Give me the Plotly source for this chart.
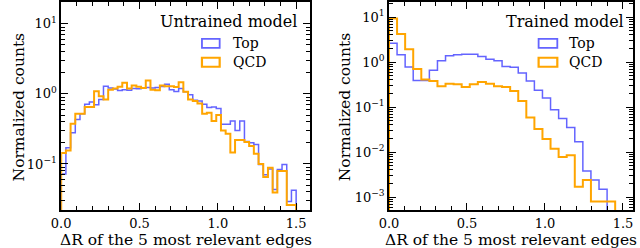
import numpy as np
import plotly.graph_objects as go

# ---------------- data ----------------
# Left panel: untrained model, 50 bins of width 0.03 on [0, 1.5]
left_edges = np.linspace(0.0, 1.5, 51)
left_top = [0.072, 0.17, 0.28, 0.43, 0.52, 0.71, 0.77, 0.70, 0.83, 1.29,
            1.22, 1.18, 1.12, 1.15, 1.13, 1.20, 1.19, 1.22, 1.24, 1.22,
            1.24, 1.28, 1.37, 1.15, 1.08, 1.20, 1.07, 0.97, 0.81, 0.79,
            0.71, 0.64, 0.65, 0.62, 0.37, 0.37, 0.41, 0.30, 0.41, 0.21,
            0.20, 0.19, 0.098, 0.070, 0.085, 0.043, 0.083, 0.098, 0.029, 0.042]
left_qcd = [0.143, 0.155, 0.376, 0.52, 0.52, 0.65, 0.65, 1.09, 0.93, 0.83,
            1.15, 1.20, 1.27, 1.45, 1.20, 1.32, 1.27, 1.22, 1.55, 1.15,
            1.13, 1.32, 1.29, 1.29, 1.26, 1.47, 1.07, 0.83, 0.79, 0.73,
            0.52, 0.54, 0.41, 0.50, 0.30, 0.27, 0.146, 0.22, 0.22, 0.205,
            0.18, 0.14, 0.10, 0.065, 0.088, 0.039, 0.079, 0.079, 0.026, 0.026]

# Right panel: trained model, bin width 1.45/28
right_width = 1.45 / 28
right_top = [2.62, 1.45, 0.78, 0.39, 0.39, 0.66, 1.07, 1.38, 1.45, 1.50,
             1.50, 1.33, 1.16, 1.07, 0.80, 0.77, 0.57, 0.38, 0.235, 0.16,
             0.087, 0.056, 0.035, 0.017, 0.0038, 0.0024, 0.0015]
right_qcd = [9.3, 4.2, 1.93, 0.70, 0.41, 0.38, 0.29, 0.33, 0.32, 0.28,
             0.32, 0.36, 0.33, 0.29, 0.28, 0.227, 0.137, 0.059, 0.0326, 0.0196,
             0.0118, 0.0078, 0.0085, 0.0017, 0.0024, 0.0008, 0.0008, 0.0008]
right_top_edges = np.arange(len(right_top) + 1) * right_width
right_qcd_edges = np.arange(len(right_qcd) + 1) * right_width

series_names = ["Top", "QCD"]
panel_titles = ["Untrained model", "Trained model"]
x_title = "ΔR of the 5 most relevant edges"
y_title = "Normalized counts"
x_tickvals = [0.0, 0.5, 1.0, 1.5]
x_ticktext = ["0.0", "0.5", "1.0", "1.5"]
left_yticks = [0.1, 1, 10]
left_yticktext = ["10<sup>−1</sup>", "10<sup>0</sup>", "10<sup>1</sup>"]
right_yticks = [0.001, 0.01, 0.1, 1, 10]
right_yticktext = ["10<sup>−3</sup>", "10<sup>−2</sup>", "10<sup>−1</sup>",
                   "10<sup>0</sup>", "10<sup>1</sup>"]

# ---------------- style ----------------
BLUE = "rgba(40,40,255,0.72)"
ORANGE = "#FFA500"
FONT = "DejaVu Serif"
FLOOR = 1e-6


def step_xy(edges, vals):
    x = [edges[0]] + list(edges[:-1]) + [edges[-1]]
    y = [FLOOR] + list(vals) + [FLOOR]
    return x, y


fig = go.Figure()


def add_hist(edges, vals, color, width, xa, ya):
    x, y = step_xy(edges, vals)
    fig.add_trace(go.Scatter(x=x, y=y, mode="lines", line=dict(shape="hv", color=color, width=width),
                             xaxis=xa, yaxis=ya, showlegend=False, hoverinfo="skip"))


add_hist(left_edges, left_top, BLUE, 1.5, "x", "y")
add_hist(left_edges, left_qcd, ORANGE, 2.0, "x", "y")
add_hist(right_top_edges, right_top, BLUE, 1.5, "x2", "y2")
add_hist(right_qcd_edges, right_qcd, ORANGE, 2.0, "x2", "y2")

W, H = 640, 248
L_dom = [52 / W, 305 / W]
R_dom = [385 / W, 633 / W]
Y_dom = [(H - 210) / H, (H - 1) / H]


def minor_log(lo, hi):
    vals = []
    for k in range(lo, hi + 1):
        for m in range(2, 10):
            vals.append(m * 10.0 ** k)
    return vals


TICK_FONT = dict(family=FONT, size=13, color="black")
common_x = dict(showgrid=False, zeroline=False, showline=True, linecolor="black", linewidth=1.6,
                mirror="ticks", ticks="inside", ticklen=7, tickwidth=1.2, tickcolor="black",
                tickmode="array", tickvals=x_tickvals, ticktext=x_ticktext, tickfont=TICK_FONT,
                minor=dict(ticks="inside", ticklen=4, tickwidth=1, tickcolor="black", dtick=0.1, tick0=0))
common_y = dict(type="log", showgrid=False, zeroline=False, showline=True, linecolor="black", linewidth=1.6,
                mirror="ticks", ticks="inside", ticklen=7, tickwidth=1.2, tickcolor="black",
                tickmode="array", tickfont=TICK_FONT)

fig.update_layout(
    width=W, height=H,
    margin=dict(l=0, r=0, t=0, b=0),
    paper_bgcolor="white", plot_bgcolor="white",
    font=dict(family=FONT, color="black"),
    xaxis=dict(common_x, domain=L_dom, range=[0, 1.59], anchor="y"),
    yaxis=dict(common_y, domain=Y_dom, range=[-1.66, 1.313], anchor="x",
               tickvals=left_yticks, ticktext=left_yticktext,
               minor=dict(ticks="inside", ticklen=4, tickwidth=1, tickcolor="black",
                          tickmode="array", tickvals=minor_log(-2, 1))),
    xaxis2=dict(common_x, domain=R_dom, range=[0, 1.565], anchor="y2"),
    yaxis2=dict(common_y, domain=Y_dom, range=[-3.29, 1.334], anchor="x2",
                tickvals=right_yticks, ticktext=right_yticktext,
                minor=dict(ticks="inside", ticklen=4, tickwidth=1, tickcolor="black",
                           tickmode="array", tickvals=minor_log(-4, 1))),
)

annotations = []
shapes = []
LABEL_FONT = dict(family=FONT, size=15.5, color="black")
# axis titles
for xc in [(52 + 305) / 2, (385 + 633) / 2]:
    annotations.append(dict(text=x_title, x=xc / W, y=(H - 239.5) / H, xref="paper", yref="paper",
                            showarrow=False, font=LABEL_FONT, xanchor="center", yanchor="middle"))
for xc in [9, 340]:
    annotations.append(dict(text=y_title, x=xc / W, y=(H - 106) / H, xref="paper", yref="paper",
                            showarrow=False, textangle=-90, font=LABEL_FONT,
                            xanchor="center", yanchor="middle"))

# legends
legend_specs = [
    dict(xa="x", ya="y", title=panel_titles[0], title_right=294, rect=(195, 213), text_x=224, x0=52, x1=305),
    dict(xa="x2", ya="y2", title=panel_titles[1], title_right=626, rect=(537, 556), text_x=566, x0=385, x1=633),
]
for spec in legend_specs:
    dx = lambda px, s=spec: (px - s["x0"]) / (s["x1"] - s["x0"])
    dy = lambda py: (210 - py) / 209
    xr = spec["xa"] + " domain"
    yr = spec["ya"] + " domain"
    annotations.append(dict(text=spec["title"], x=dx(spec["title_right"]), y=dy(21), xref=xr, yref=yr,
                            showarrow=False, xanchor="right", yanchor="middle",
                            font=dict(family=FONT, size=16, color="black")))
    for name, color, yc in [(series_names[0], BLUE, 42.5), (series_names[1], ORANGE, 61.5)]:
        shapes.append(dict(type="rect", xref=xr, yref=yr, x0=dx(spec["rect"][0]), x1=dx(spec["rect"][1]),
                           y0=dy(yc - 4.5), y1=dy(yc + 4.5),
                           line=dict(color=color, width=1.8 if color == BLUE else 2.2),
                           fillcolor="rgba(0,0,0,0)"))
        annotations.append(dict(text=name, x=dx(spec["text_x"]), y=dy(yc), xref=xr, yref=yr,
                                showarrow=False, xanchor="left", yanchor="middle",
                                font=dict(family=FONT, size=14, color="black")))

fig.update_layout(annotations=annotations, shapes=shapes)
fig.write_html("out.html", config={"displayModeBar": False},
               post_script="document.body.style.margin='0';document.body.style.padding='0';")
